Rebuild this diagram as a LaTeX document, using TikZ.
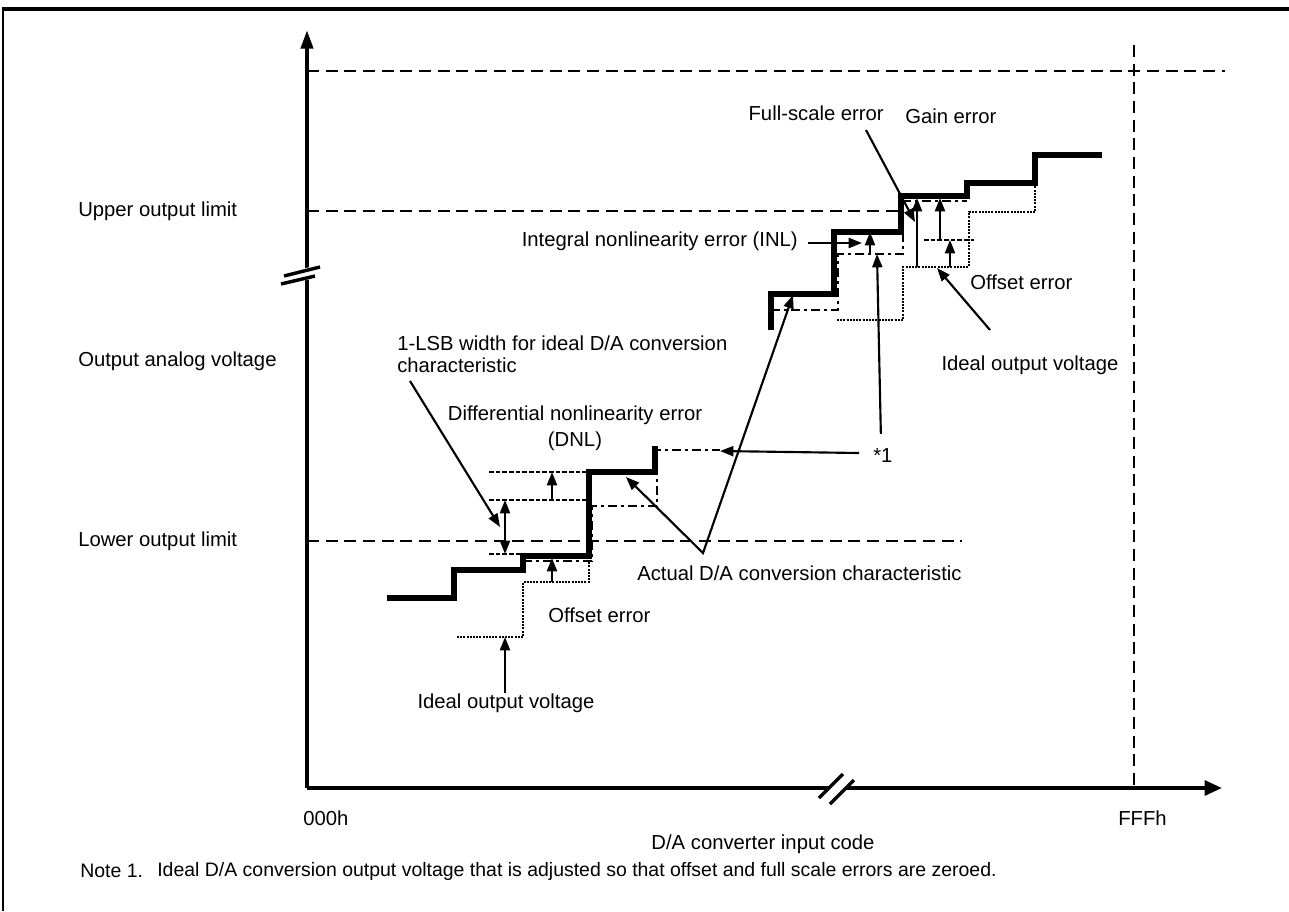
\documentclass[tikz,border=0pt]{standalone}
\usepackage{fontspec}
\setmainfont{Liberation Sans}
\usepackage{tikz}
\usetikzlibrary{arrows.meta,positioning,calc}

\begin{document}
\begin{tikzpicture}[x=0.75pt,y=-0.75pt,
    lbl/.style={font=\fontsize{15.2}{18}\selectfont, inner sep=0pt},
    notelbl/.style={font=\fontsize{14.6}{17}\selectfont, inner sep=0pt},
    axisline/.style={line width=3pt},
    limitline/.style={line width=2.2pt, dash pattern=on 9pt off 5pt},
    markline/.style={line width=1.6pt, dash pattern=on 3.5pt off 1.5pt},
    actualline/.style={line width=4.3pt, line join=miter},
    idealline/.style={line width=2.2pt, dash pattern=on 1.5pt off 0.9pt},
    adjline/.style={line width=2.2pt, dash pattern=on 7pt off 3pt on 2pt off 3pt},
    pointer/.style={line width=1.6pt, -{Triangle[length=10pt,width=7.5pt]}},
    breakmark/.style={line width=2.6pt}
]
    \useasboundingbox (0,0) rectangle (1289,911);

    % frame
    \draw[line width=1.6pt] (3,911) -- (3,9);
    \draw[line width=2.6pt] (2,9) -- (1289,9);

    % axes
    \coordinate (O) at (307,788);
    \draw[axisline, -{Triangle[length=14pt,width=9pt]}] (O) -- (307,30);
    \draw[axisline, -{Triangle[length=13pt,width=11pt]}] (O) -- (1222,788);

    % axis breaks
    \fill[white] (286,273) -- (318,265) -- (316,278) -- (283,285) -- cycle;
    \draw[breakmark] (284,276) -- (320,267);
    \draw[breakmark] (281,284) -- (315,276);
    \fill[white] (822,795) -- (843,774) -- (854,781) -- (832,802) -- cycle;
    \draw[breakmark] (819,798) -- (843,774);
    \draw[breakmark] (830,804) -- (854,780);

    % limit lines
    \draw[limitline] (307,71) -- (1225,71);
    \draw[limitline] (1134,45) -- (1134,788);
    \draw[limitline] (307,211) -- (900,211);
    \draw[limitline] (307,541) -- (962,541);

    % ideal output voltage
    \draw[idealline] (457,637) -- (523,637) -- (523,582) -- (589,582) -- (589,560);
    \draw[idealline] (837,320) -- (903,320) -- (903,267) -- (969,267)
        -- (969,212) -- (1035,212) -- (1035,183);

    % ideal with offset and full scale zeroed (*1)
    \draw[adjline] (523,561) -- (592,561) -- (592,506) -- (657,506) -- (657,450) -- (720,450);
    \draw[adjline] (771,310) -- (838,310) -- (838,254) -- (903,254) -- (903,201) -- (967,201);

    % actual characteristic
    \draw[actualline] (387,598) -- (454,598) -- (454,570) -- (523,570) -- (523,556)
        -- (589,556) -- (589,472) -- (655,472) -- (655,446);
    \draw[actualline] (771,330) -- (771,294) -- (834,294) -- (834,232) -- (901,232)
        -- (901,196) -- (967,196) -- (967,183) -- (1035,183) -- (1035,155) -- (1102,155);

    % short marker lines
    \draw[markline] (489,554) -- (523,554);
    \draw[markline] (489,500) -- (589,500);
    \draw[markline] (489,472) -- (589,472);
    \draw[markline] (924,240) -- (974,240);

    % error arrows
    \draw[line width=1.6pt, {Triangle[length=10pt,width=7.5pt]}-{Triangle[length=10pt,width=7.5pt]}]
        (505,500) -- (505,554);
    \draw[pointer] (552,500) -- (552,472);
    \draw[pointer] (552,582) -- (552,558);
    \draw[pointer] (870,254) -- (870,232);
    \draw[pointer] (950,267) -- (950,240);
    \draw[pointer] (940,240) -- (940,198);
    \draw[pointer] (917,267) -- (917,198);

    % labels
    \node[lbl, anchor=west] (upperLim) at (78,211) {Upper output limit};
    \node[lbl, anchor=west] (outVolt) at (78,361) {Output analog voltage};
    \node[lbl, anchor=west] (lowerLim) at (78,541) {Lower output limit};
    \node[lbl, anchor=west] (zeroCode) at (303,818) {000h};
    \node[lbl, anchor=west] (fullCode) at (1118,818) {FFFh};
    \node[lbl] (inCode) at (763,844) {D/A converter input code};
    \node[notelbl, anchor=west] (noteNum) at (80,871) {Note 1.};
    \node[notelbl, anchor=west] (noteText) at (157,871)
        {Ideal D/A conversion output voltage that is adjusted so that offset and full scale errors are zeroed.};

    \node[lbl, anchor=east] (fsErr) at (884,113) {Full-scale error};
    \node[lbl, anchor=west] (gainErr) at (905,116) {Gain error};
    \node[lbl, anchor=east] (inlErr) at (798,241) {Integral nonlinearity error (INL)};
    \node[lbl, anchor=west] (starOne) at (873,456) {*1};
    \node[lbl, anchor=west] (offErrU) at (970,282) {Offset error};
    \node[lbl] (idealU) at (1030,365) {Ideal output voltage};
    \node[lbl, anchor=west] (lsbA) at (397,343) {1-LSB width for ideal D/A conversion};
    \node[lbl, anchor=west] (lsbB) at (397,365) {characteristic};
    \node[lbl] (dnlA) at (575,415) {Differential nonlinearity error};
    \node[lbl] (dnlB) at (575,441) {(DNL)};
    \node[lbl, anchor=west] (offErrL) at (548,615) {Offset error};
    \node[lbl] (idealL) at (506,703) {Ideal output voltage};
    \node[lbl, anchor=west] (actualCh) at (637,573) {Actual D/A conversion characteristic};

    % label pointers
    \coordinate (lsbFrom) at (410,381);
    \coordinate (lsbTip) at (500,527);
    \draw[pointer] (lsbFrom) -- (lsbTip);

    \coordinate (idealLTip) at (505,637);
    \draw[pointer] (idealL.north -| idealLTip) -- (idealLTip);

    \coordinate (actV) at (703,553);
    \coordinate (actTipA) at (626,477);
    \coordinate (actTipB) at (793,295);
    \draw[line width=1.6pt, {Triangle[length=10pt,width=7.5pt]}-{Triangle[length=10pt,width=7.5pt]}]
        (actTipA) -- (actV) -- (actTipB);

    \coordinate (starTipL) at (720,451);
    \coordinate (starTipU) at (877,254);
    \draw[pointer] ($(starOne.west)+(-14,-3)$) -- (starTipL);
    \draw[pointer] ($(starOne.north)+(-2,-15)$) -- (starTipU);

    \coordinate (inlTip) at (862,243);
    \draw[pointer] ($(inlErr.east)+(10,2)$) -- (inlTip);

    \coordinate (fsTip) at (915,222);
    \draw[pointer] (866,130) -- (fsTip);

    \coordinate (idealUTip) at (937,268);
    \draw[pointer] (990,330) -- (idealUTip);
\end{tikzpicture}
\end{document}
